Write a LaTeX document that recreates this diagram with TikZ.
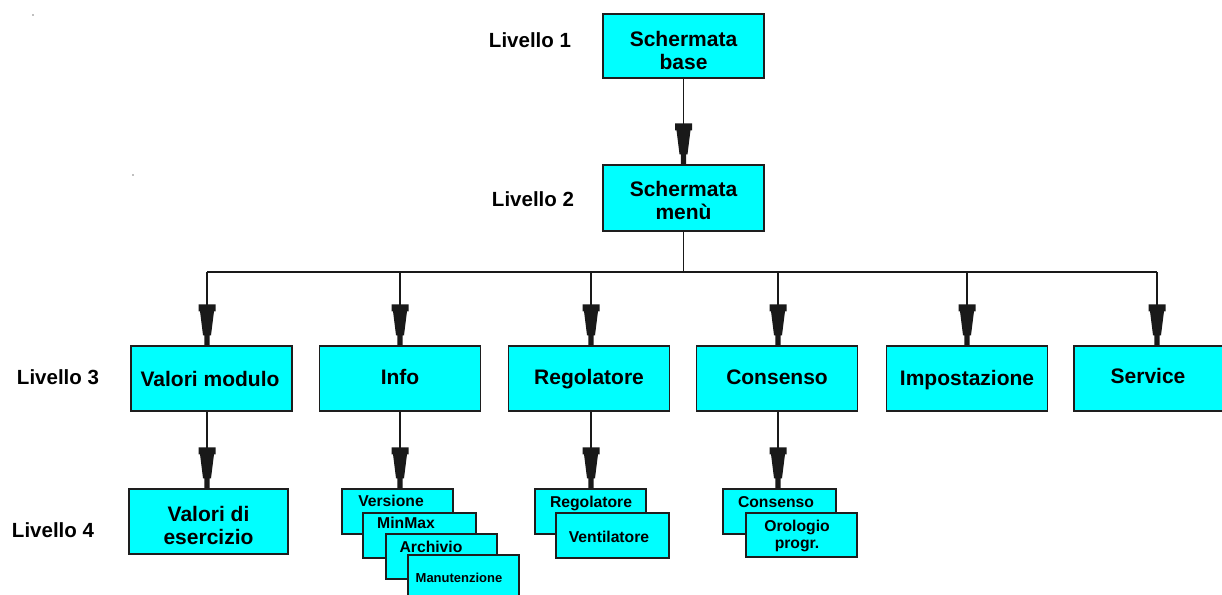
\documentclass[tikz,border=0pt]{standalone}
\usepackage{fontspec}
\setmainfont{Liberation Sans}
\definecolor{aqua}{RGB}{0,255,255}
\definecolor{edge}{RGB}{30,30,30}
\pgfdeclarearrow{
  name = Plug,
  setup code = {
    \pgfarrowssettipend{0pt}
    \pgfarrowssetlineend{-6pt}
    \pgfarrowssetvisualbackend{-41pt}
    \pgfarrowssetbackend{-41pt}
    \pgfarrowsupperhullpoint{0pt}{2.5pt}
    \pgfarrowsupperhullpoint{-41pt}{8.5pt}
  },
  drawing code = {
    \pgfpathmoveto{\pgfqpoint{0pt}{2.6pt}}
    \pgfpathlineto{\pgfqpoint{-10pt}{2.6pt}}
    \pgfpathlineto{\pgfqpoint{-10pt}{4pt}}
    \pgfpathlineto{\pgfqpoint{-34pt}{7pt}}
    \pgfpathlineto{\pgfqpoint{-34pt}{8.5pt}}
    \pgfpathlineto{\pgfqpoint{-41pt}{8.5pt}}
    \pgfpathlineto{\pgfqpoint{-41pt}{-8.5pt}}
    \pgfpathlineto{\pgfqpoint{-34pt}{-8.5pt}}
    \pgfpathlineto{\pgfqpoint{-34pt}{-7pt}}
    \pgfpathlineto{\pgfqpoint{-10pt}{-4pt}}
    \pgfpathlineto{\pgfqpoint{-10pt}{-2.6pt}}
    \pgfpathlineto{\pgfqpoint{0pt}{-2.6pt}}
    \pgfpathclose
    \pgfusepathqfill
  },
}
\tikzset{
  box/.style={draw=edge, line width=1.5pt, fill=aqua, inner sep=0pt, rectangle},
  bigbox/.style={box, minimum width=161pt, minimum height=65pt},
  smallbox/.style={box, minimum width=112pt, minimum height=45pt},
  bigtxt/.style={font=\fontsize{21}{23}\selectfont\bfseries, align=center, inner sep=0pt},
  basetxt/.style={font=\fontsize{21}{23}\selectfont\bfseries, inner sep=0pt, anchor=base},
  smalltxt/.style={font=\fontsize{15.7}{17}\selectfont\bfseries, align=center, inner sep=0pt},
  tinytxt/.style={font=\fontsize{13}{15}\selectfont\bfseries, inner sep=0pt},
  lvl/.style={font=\fontsize{20.5}{23}\selectfont\bfseries, inner sep=0pt},
  conn/.style={line width=1.7pt, draw=black!90},
  plug/.style={conn, -Plug},
}
\begin{document}
\begin{tikzpicture}[x=1pt, y=-1pt]
\useasboundingbox (0,0) rectangle (1222,594);
\fill[gray] (33,15) circle (0.9);
\fill[gray] (133,175) circle (0.9);

% level labels
\node[lvl] (l1) at (530,40) {Livello 1};
\node[lvl] (l2) at (533,199) {Livello 2};
\node[lvl] (l3) at (58,377) {Livello 3};
\node[lvl] (l4) at (53,530) {Livello 4};

% level 1 and 2
\node[bigbox, minimum height=64pt] (base) at (683.5,46) {};
\node[bigtxt] (tbase) at (683.5,50) {Schermata\\base};
\node[bigbox, minimum height=66pt] (menu) at (683.5,198) {};
\node[bigtxt] (tmenu) at (683.5,200) {Schermata\\menù};
\draw[plug] (base) -- (menu);

% bus
\coordinate (bus) at (683.5,272);
\coordinate (d1) at (207,272);
\coordinate (d2) at (400,272);
\coordinate (d3) at (591,272);
\coordinate (d4) at (778,272);
\coordinate (d5) at (967,272);
\coordinate (d6) at (1157,272);
\draw[conn] (menu.south) -- (bus);
\draw[conn] (d1) -- (d6);

% level 3
\node[bigbox] (vm) at (211.5,378.5) {};
\node[basetxt] (tvm) at (210,386) {Valori modulo};
\node[bigbox] (info) at (400,378.5) {};
\node[basetxt] (tinfo) at (400,384) {Info};
\node[bigbox] (reg) at (589,378.5) {};
\node[basetxt] (treg) at (589,384) {Regolatore};
\node[bigbox] (cons) at (777,378.5) {};
\node[basetxt] (tcons) at (777,384) {Consenso};
\node[bigbox] (imp) at (967,378.5) {};
\node[basetxt] (timp) at (967,385) {Impostazione};
\node[bigbox, minimum width=166pt] (serv) at (1157,378.5) {};
\node[basetxt] (tserv) at (1148,383) {Service};

\draw[plug] (d1) -- (d1 |- vm.north);
\draw[plug] (d2) -- (d2 |- info.north);
\draw[plug] (d3) -- (d3 |- reg.north);
\draw[plug] (d4) -- (d4 |- cons.north);
\draw[plug] (d5) -- (d5 |- imp.north);
\draw[plug] (d6) -- (d6 |- serv.north);

% level 4
\node[bigbox, minimum width=159pt] (ve) at (208.5,521.5) {};
\node[bigtxt] (tve) at (208.5,525) {Valori di\\esercizio};

\node[smallbox, minimum width=111pt] (vers) at (397.5,511.5) {};
\node[smalltxt] (tvers) at (391,501) {Versione};
\node[smallbox, minimum width=113pt] (minmax) at (419.5,535.5) {};
\node[smalltxt] (tminmax) at (406,523) {MinMax};
\node[smallbox, minimum width=111pt] (arch) at (441.5,556.5) {};
\node[smalltxt] (tarch) at (431,547) {Archivio};
\node[smallbox, minimum width=111pt] (manu) at (463.5,577.5) {};
\node[tinytxt] (tmanu) at (459,578) {Manutenzione};

\node[smallbox, minimum width=111pt] (regs) at (590.5,511.5) {};
\node[smalltxt] (tregs) at (591,503) {Regolatore};
\node[smallbox, minimum width=113pt] (vent) at (612.5,535.5) {};
\node[smalltxt] (tvent) at (609,537) {Ventilatore};

\node[smallbox, minimum width=113pt] (conss) at (779.5,511.5) {};
\node[smalltxt] (tconss) at (776,502) {Consenso};
\node[smallbox, minimum width=111pt, minimum height=44pt] (orol) at (801.5,535) {};
\node[smalltxt] (torol) at (797,536) {Orologio\\progr.};

\draw[plug] (d1 |- vm.south) -- (d1 |- ve.north);
\draw[plug] (d2 |- info.south) -- (d2 |- vers.north);
\draw[plug] (d3 |- reg.south) -- (d3 |- regs.north);
\draw[plug] (d4 |- cons.south) -- (d4 |- conss.north);
\end{tikzpicture}
\end{document}
